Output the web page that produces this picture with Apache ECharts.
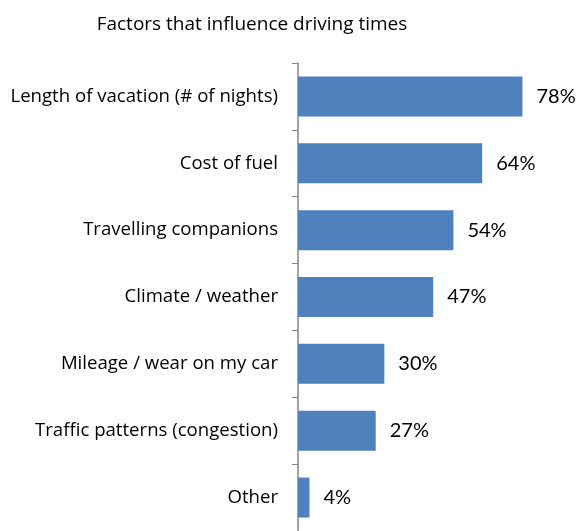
<!DOCTYPE html>
<html>
<head>
<meta charset="utf-8">
<script src="https://cdn.jsdelivr.net/npm/echarts@6/dist/echarts.min.js"></script>
<style>
  html, body { margin: 0; padding: 0; background: #fff; }
  #chart { width: 578px; height: 531px; }
</style>
</head>
<body>
<div id="chart"></div>
<script>
  // data
  const categories = [
    'Length of vacation (# of nights)',
    'Cost of fuel',
    'Travelling companions',
    'Climate / weather',
    'Mileage / wear on my car',
    'Traffic patterns (congestion)',
    'Other'
  ];
  const values = [78, 64, 54, 47, 30, 27, 4];

  const chart = echarts.init(document.getElementById('chart'));
  const textFont = '"Open Sans", Lato, sans-serif';

  chart.setOption({
    animation: false,
    title: {
      text: 'Factors that influence driving times',
      left: 247,
      textAlign: 'center',
      top: 10,
      textStyle: { fontFamily: textFont, fontSize: 19, fontWeight: 'normal', color: '#000' }
    },
    grid: { left: 298, right: 21, top: 63, bottom: -4 },
    xAxis: {
      type: 'value',
      min: 0,
      max: 90,
      show: false
    },
    yAxis: {
      type: 'category',
      data: categories,
      inverse: true,
      axisLine: { lineStyle: { color: '#868686', width: 1.5 } },
      axisTick: { show: true, length: 6, lineStyle: { color: '#868686' } },
      axisLabel: { fontFamily: textFont, fontSize: 18.6, color: '#000', margin: 20 }
    },
    series: [{
      type: 'bar',
      data: values,
      barWidth: 40,
      itemStyle: { color: '#4F81BD' },
      label: {
        show: true,
        position: 'right',
        distance: 14,
        formatter: '{c}%',
        fontFamily: 'Lato, sans-serif',
        fontSize: 20,
        color: '#000'
      }
    }]
  });
</script>
</body>
</html>
